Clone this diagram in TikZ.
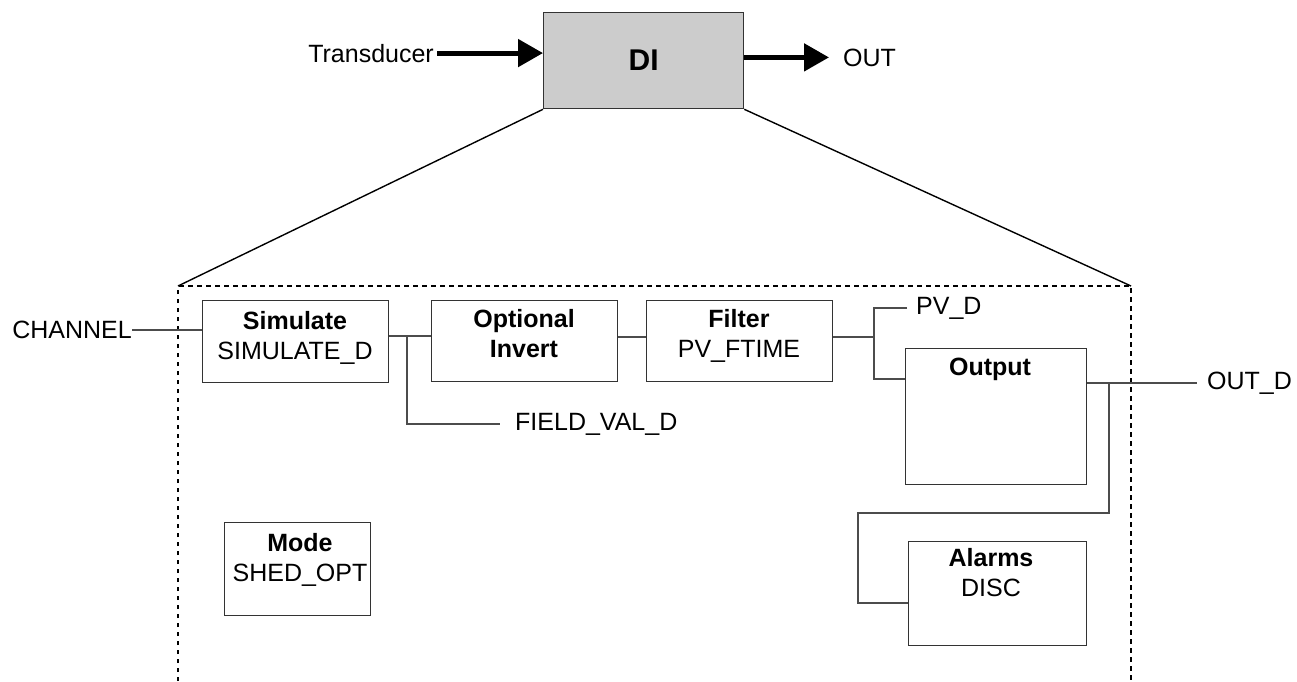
\documentclass[tikz,border=0pt]{standalone}
\usepackage{fontspec}
\setmainfont{Liberation Sans}
\usetikzlibrary{arrows.meta}
\begin{document}
\begin{tikzpicture}[x=1pt, y=-1pt,
    font=\fontsize{25}{30}\selectfont,
    box/.style={draw=black!80, line width=1.3pt, fill=white, inner sep=0pt, anchor=north west},
    txt/.style={align=center, inner sep=0pt, anchor=north},
    lbl/.style={inner ysep=0pt, anchor=west},
    wire/.style={draw=black!70, line width=1.3pt},
    fat/.style={draw=black, line width=5pt, -{Triangle[length=25pt, width=27pt]}},
    diag/.style={draw=black, line width=1.4pt},
    frame/.style={draw=black, line width=2.6pt, dash pattern=on 4.5pt off 4.5pt}]
  \useasboundingbox (0,0) rectangle (1297,681);

  % top-level function block
  \node[box, fill=black!20, minimum width=200pt, minimum height=96pt,
        font=\fontsize{30}{36}\selectfont\bfseries] (di) at (543,12) {DI};
  \node[anchor=base east, inner xsep=3pt, inner ysep=0pt] (tr) at (437,62) {Transducer};
  \draw[fat] (tr.east) -- (tr.east -| di.west);
  \node[anchor=base west, inner xsep=14pt, inner ysep=0pt] (out) at (829,66) {OUT};
  \draw[fat] (out.west -| di.east) -- (out.west);

  % expanded view frame
  \coordinate (fl) at (178,286);
  \coordinate (fr) at (1131,286);
  \coordinate (flb) at (178,681);
  \coordinate (frb) at (1131,681);
  \draw[diag] (di.south west) -- (fl);
  \draw[diag] (di.south east) -- (fr);
  \draw[frame] (flb) -- (fl) -- (fr) -- (frb);

  % inner blocks
  \node[box, minimum width=186pt, minimum height=82pt] (sim) at (202,300) {};
  \node[txt] (simt) at (295,311) {\textbf{Simulate}\\SIMULATE\_D};
  \node[box, minimum width=186pt, minimum height=81pt] (inv) at (431,300) {};
  \node[txt] (invt) at (524,309) {\textbf{Optional}\\\textbf{Invert}};
  \node[box, minimum width=186pt, minimum height=81pt] (fil) at (646,300) {};
  \node[txt] (filt) at (739,309) {\textbf{Filter}\\PV\_FTIME};
  \node[box, minimum width=181pt, minimum height=136pt] (outp) at (905,348) {};
  \node[txt] (outpt) at (990,358) {\textbf{Output}};
  \node[box, minimum width=178pt, minimum height=104pt] (alm) at (908,541) {};
  \node[txt] (almt) at (991,548) {\textbf{Alarms}\\DISC};
  \node[box, minimum width=146pt, minimum height=93pt] (mode) at (224,522) {};
  \node[txt] (modet) at (300,533) {\textbf{Mode}\\SHED\_OPT};

  % parameter labels
  \node[anchor=east, inner sep=0pt] (ch) at (132,330) {CHANNEL};
  \node[lbl, inner xsep=15pt] (fv) at (500,424) {FIELD\_VAL\_D};
  \node[lbl, inner xsep=9pt] (pvd) at (907,308) {PV\_D};
  \node[lbl, inner xsep=10pt] (outd) at (1197,383) {OUT\_D};

  % signal connections
  \draw[wire] (ch.east) -- (ch.east -| sim.west);
  \coordinate (j1) at (407,336);
  \draw[wire] (j1 -| sim.east) -- (j1 -| inv.west);
  \draw[wire] (j1) |- (fv.west);
  \coordinate (m1) at (632,337);
  \draw[wire] (m1 -| inv.east) -- (m1 -| fil.west);
  \coordinate (j2) at (874,337);
  \draw[wire] (j2 -| fil.east) -- (j2);
  \coordinate (j2b) at (874,379);
  \draw[wire] (pvd.west) -| (j2b) -- (j2b -| outp.west);
  \draw[wire] (outd.west -| outp.east) -- (outd.west);
  \coordinate (j3) at (1109,383);
  \coordinate (k1) at (1109,513);
  \coordinate (k2) at (858,513);
  \coordinate (k3) at (858,603);
  \draw[wire] (j3) -- (k1) -- (k2) -- (k3) -- (k3 -| alm.west);
\end{tikzpicture}
\end{document}
